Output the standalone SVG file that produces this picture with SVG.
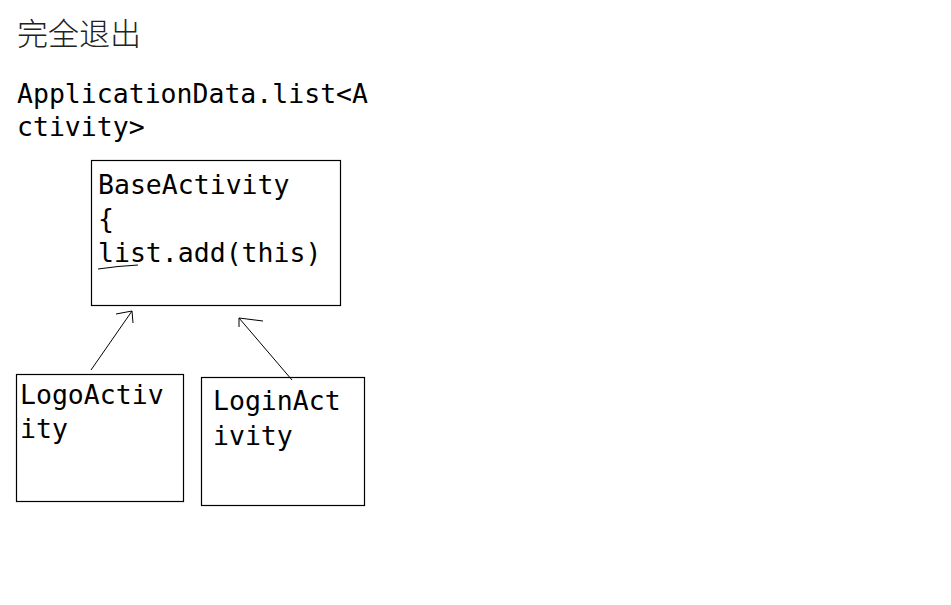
<svg xmlns="http://www.w3.org/2000/svg" width="951" height="605" viewBox="0 0 951 605">
<style>
.t{font-family:"DejaVu Sans Mono","Liberation Mono",monospace;font-size:26.5px;fill:#000}
.cjk{font-family:"Noto Sans CJK SC",sans-serif;font-size:31px;font-weight:300;fill:#222}
.box{fill:#fff;stroke:#000;stroke-width:1.2}
.ln{fill:none;stroke:#000;stroke-width:1}
</style>
<rect width="951" height="605" fill="#fff"/>
<text class="cjk" x="17" y="45">完全退出</text>
<text class="t" x="17" y="103">ApplicationData.list&lt;A</text>
<text class="t" x="17" y="136">ctivity&gt;</text>
<g id="base">
<rect class="box" x="91.5" y="160.5" width="249" height="145"/>
<text class="t" x="98" y="194">BaseActivity</text>
<text class="t" x="98" y="228">{</text>
<text class="t" x="98" y="262">list.add(this)</text>
<path class="ln" d="M98 269 Q118 266 138 265"/>
</g>
<g id="logo">
<rect class="box" x="16.5" y="374.5" width="167" height="127"/>
<text class="t" x="20" y="404">LogoActiv</text>
<text class="t" x="20" y="438">ity</text>
</g>
<g id="login">
<rect class="box" x="201.5" y="377.5" width="163" height="128"/>
<text class="t" x="213" y="410">LoginAct</text>
<text class="t" x="213" y="445">ivity</text>
</g>
<g id="connectors">
<path class="ln" d="M91 370 L132 311 M132 311 L116 314 M132 311 L133 323"/>
<path class="ln" d="M292 380 L239 318 M239 318 L263 321 M239 318 L239 327"/>
</g>
</svg>
